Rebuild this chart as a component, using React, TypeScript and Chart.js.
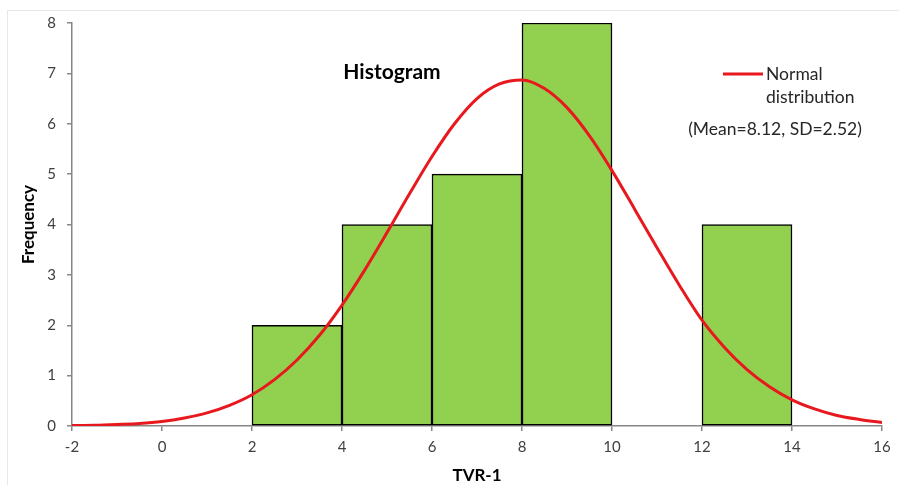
import React, { useEffect, useRef } from "react";
import { Chart, registerables } from "chart.js";
Chart.register(...registerables);

const binCenters = [3, 5, 7, 9, 13];
const binCounts = [2, 4, 5, 8, 4];
const curveX = [-2, -1.5, -1, -0.5, 0, 0.5, 1, 1.5, 2, 2.5, 3, 3.5, 4, 4.5, 5, 5.5, 6, 6.5, 7, 7.5, 8, 8.5, 9, 9.5, 10, 10.5, 11, 11.5, 12, 12.5, 13, 13.5, 14, 14.5, 15, 15.5, 16];
const curveY = [0.01, 0.015, 0.03, 0.05, 0.09, 0.16, 0.26, 0.41, 0.62, 0.92, 1.31, 1.8, 2.4, 3.09, 3.84, 4.61, 5.35, 6.0, 6.5, 6.79, 6.87, 6.7, 6.32, 5.76, 5.07, 4.31, 3.54, 2.79, 2.1, 1.56, 1.12, 0.78, 0.52, 0.34, 0.21, 0.13, 0.07];
const xMin = -2;
const xMax = 16;
const xStep = 2;
const yMin = 0;
const yMax = 8;
const yStep = 1;

const RED = "#E8191E";
const GREEN = "#92D050";
const AXIS = "#868686";
const FONT = "Lato";

const annotations = {
  id: "annotations",
  afterDraw(chart: any) {
    const ctx = chart.ctx;
    const a = chart.chartArea;
    ctx.save();
    ctx.fillStyle = "#000";
    ctx.textBaseline = "middle";
    ctx.textAlign = "center";
    ctx.font = `bold 21px ${FONT}`;
    ctx.fillText("Histogram", 392, 72);

    ctx.strokeStyle = RED;
    ctx.lineWidth = 3;
    ctx.beginPath();
    ctx.moveTo(723, 74);
    ctx.lineTo(763, 74);
    ctx.stroke();

    ctx.fillStyle = "#262626";
    ctx.font = `17.5px ${FONT}`;
    ctx.textAlign = "left";
    ctx.fillText("Normal", 766, 74);
    ctx.fillText("distribution", 766, 97);
    ctx.textAlign = "center";
    ctx.fillText("(Mean=8.12, SD=2.52)", 775, 129);

    ctx.fillStyle = "#000";
    ctx.font = `bold 17px ${FONT}`;
    ctx.fillText("TVR-1", (a.left + a.right) / 2, 476);
    ctx.translate(29, (a.top + a.bottom) / 2);
    ctx.rotate(-Math.PI / 2);
    ctx.fillText("Frequency", 0, 0);
    ctx.restore();
  },
};

export default function App() {
  const ref = useRef<HTMLCanvasElement | null>(null);
  useEffect(() => {
    if (!ref.current) return;
    const chart = new Chart(ref.current, {
      type: "bar",
      data: {
        datasets: [
          {
            type: "line",
            label: "Normal distribution",
            data: curveX.map((x, i) => ({ x, y: curveY[i] })),
            borderColor: RED,
            borderWidth: 3,
            pointRadius: 0,
            cubicInterpolationMode: "monotone",
            fill: false,
            order: 0,
          } as any,
          {
            type: "bar",
            label: "Frequency",
            data: binCenters.map((x, i) => ({ x, y: binCounts[i] })),
            backgroundColor: GREEN,
            borderColor: "#000",
            borderWidth: 1.5,
            borderSkipped: false,
            barPercentage: 1,
            categoryPercentage: 1,
            order: 1,
          } as any,
        ],
      },
      options: {
        responsive: false,
        animation: false,
        layout: { padding: { left: 0, top: 23, right: 17, bottom: 0 } },
        plugins: { legend: { display: false }, tooltip: { enabled: false }, title: { display: false } },
        scales: {
          x: {
            type: "linear",
            min: xMin,
            max: xMax,
            offset: false,
            ticks: { stepSize: xStep, color: "#404040", font: { family: FONT, size: 15 }, padding: 7, maxRotation: 0 },
            grid: { display: true, offset: false, drawOnChartArea: false, drawTicks: true, tickLength: 5, color: AXIS, lineWidth: 1.5 },
            border: { color: AXIS, width: 1.5 },
            afterFit: (s: any) => { s.height = 59; },
          },
          y: {
            min: yMin,
            max: yMax,
            ticks: { stepSize: yStep, color: "#404040", font: { family: FONT, size: 15 }, padding: 11 },
            grid: { display: true, offset: false, drawOnChartArea: false, drawTicks: true, tickLength: 5, color: AXIS, lineWidth: 1.5 },
            border: { color: AXIS, width: 1.5 },
            afterFit: (s: any) => { s.width = 72; },
          },
        },
      },
      plugins: [annotations],
    });
    return () => chart.destroy();
  }, []);
  return (
    <div style={{ position: "absolute", left: 0, top: 0, width: 899, height: 485, overflow: "hidden", background: "#fff" }}>
      <div style={{ position: "absolute", left: 7, top: 10, width: 1000, height: 1000, border: "1px solid #e8e8e8" }} />
      <canvas ref={ref} width={899} height={485} style={{ position: "absolute", left: 0, top: 0 }} />
    </div>
  );
}
